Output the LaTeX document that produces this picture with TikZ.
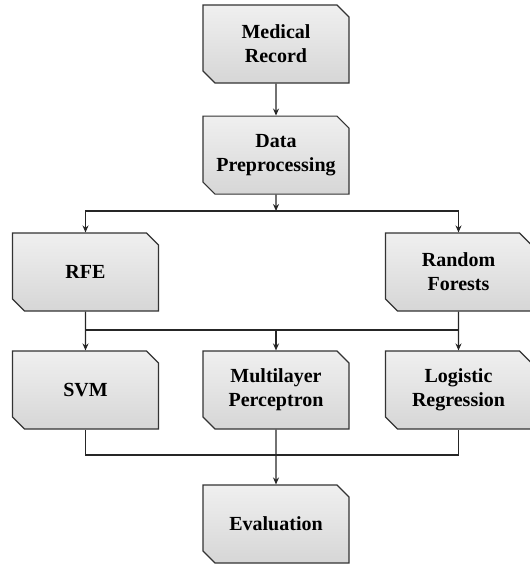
\documentclass[tikz,border=0pt]{standalone}
\usepackage{fontspec}
\setmainfont{Liberation Serif}
\usetikzlibrary{arrows.meta,positioning,shapes.misc}

\tikzset{
  block/.style={chamfered rectangle, chamfered rectangle corners={north east,south west},
    chamfered rectangle xsep=6pt, chamfered rectangle ysep=6pt,
    draw=black!80, line width=1.1pt, top color=gray!12, bottom color=gray!32,
    minimum width=142pt, minimum height=78pt, inner sep=0pt, text width=134pt,
    align=center, font=\bfseries\fontsize{20}{24}\selectfont},
  link/.style={draw=black!85, line width=1.3pt}
}

\begin{document}
\begin{tikzpicture}[x=1pt,y=-1pt,>={Stealth[length=7pt,width=6pt]},node distance=32pt]
\useasboundingbox (0,0) rectangle (530,565);

\node[block] (record) at (276,44) {Medical\\Record};
\node[block] (prep) [below=of record] {Data\\Preprocessing};
\node[block] (rfe) at (85.5,272) {RFE};
\node[block] (rf) at (458.5,272) {Random\\Forests};
\node[block] (svm) at (85.5,390) {SVM};
\node[block] (mlp) at (276,390) {Multilayer\\Perceptron};
\node[block] (lr) at (458.5,390) {Logistic\\Regression};
\node[block] (eval) at (276,524) {Evaluation};

\coordinate (split1) at (276,211);
\coordinate (split2) at (276,330);
\coordinate (join) at (276,455);

\draw[link,->] (record) -- (prep);
\draw[link,->] (prep) -- (split1);
\draw[link,->] (split1) -| (rfe);
\draw[link,->] (split1) -| (rf);
\draw[link,->] (rfe) -- (svm);
\draw[link,->] (rf) -- (lr);
\draw[link] (rfe.south |- split2) -- (rf.south |- split2);
\draw[link,->] (split2) -- (mlp);
\draw[link] (svm.south) |- (join) -| (lr.south);
\draw[link,->] (mlp) -- (eval);
\end{tikzpicture}
\end{document}
